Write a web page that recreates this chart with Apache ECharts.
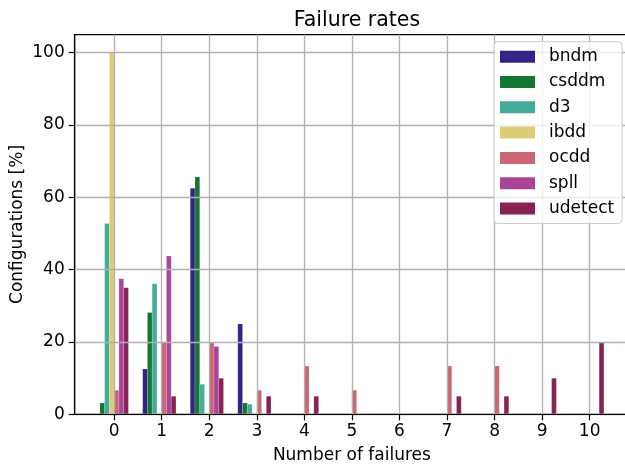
<!DOCTYPE html>
<html>
<head>
<meta charset="utf-8">
<script src="https://cdn.jsdelivr.net/npm/echarts@6/dist/echarts.min.js"></script>
<style>
  html, body { margin: 0; padding: 0; background: #fff; }
  #chart { width: 625px; height: 464px; }
</style>
</head>
<body>
<div id="chart"></div>
<script>
// Number of failures per configuration, share of configurations in percent
const categories = [0, 1, 2, 3, 4, 5, 6, 7, 8, 9, 10];
const bndm    = [0, 12.5, 62.5, 25, 0, 0, 0, 0, 0, 0, 0];
const csddm   = [3.13, 28.13, 65.63, 3.13, 0, 0, 0, 0, 0, 0, 0];
const d3      = [52.78, 36.11, 8.33, 2.78, 0, 0, 0, 0, 0, 0, 0];
const ibdd    = [100, 0, 0, 0, 0, 0, 0, 0, 0, 0, 0];
const ocdd    = [6.67, 20, 20, 6.67, 13.33, 6.67, 0, 13.33, 13.33, 0, 0];
const spll    = [37.5, 43.75, 18.75, 0, 0, 0, 0, 0, 0, 0, 0];
const udetect = [35, 5, 10, 5, 5, 0, 0, 5, 5, 10, 20];

const xTickValues = [0, 1, 2, 3, 4, 5, 6, 7, 8, 9, 10];
const yTickValues = [0, 20, 40, 60, 80, 100];

const seriesNames = ['bndm', 'csddm', 'd3', 'ibdd', 'ocdd', 'spll', 'udetect'];
const seriesValues = [bndm, csddm, d3, ibdd, ocdd, spll, udetect];
const palette = ['#332288', '#117733', '#44AA99', '#DDCC77', '#CC6677', '#AA4499', '#882255'];

const BAR_W = 0.1;              // bar width in x-axis units
const FONT = 'DejaVu Sans';

function makeSeries(idx) {
  const offset = (idx - 3.5) * BAR_W;   // group shifted so the 4th bar ends on the tick
  return {
    name: seriesNames[idx],
    type: 'custom',
    coordinateSystem: 'cartesian2d',
    clip: true,
    z: 2,
    itemStyle: { color: palette[idx] },
    data: categories.map((c, k) => [c, seriesValues[idx][k]]),
    encode: { x: 0, y: 1 },
    renderItem: function (params, api) {
      const x = api.value(0);
      const y = api.value(1);
      if (!y) return null;
      const tl = api.coord([x + offset - BAR_W / 2, y]);
      const br = api.coord([x + offset + BAR_W / 2, 0]);
      return {
        type: 'rect',
        shape: { x: tl[0], y: tl[1], width: br[0] - tl[0], height: br[1] - tl[1] },
        style: Object.assign(api.style(), { stroke: 'rgba(255,255,255,0.35)', lineWidth: 0.5 })
      };
    }
  };
}

const chart = echarts.init(document.getElementById('chart'), null, { renderer: 'canvas' });

chart.setOption({
  backgroundColor: '#ffffff',
  animation: false,
  color: palette,
  textStyle: { fontFamily: FONT, color: '#000' },
  title: {
    text: 'Failure rates',
    left: 352,
    top: 5.5,
    textAlign: 'center',
    textStyle: { fontFamily: FONT, fontSize: 20.5, fontWeight: 'normal', color: '#000' }
  },
  grid: {
    left: 74.7,
    top: 34.6,
    width: 554.4,
    height: 379.7,
    outerBoundsMode: 'none',
    containLabel: false,
    show: true,
    backgroundColor: 'transparent',
    borderColor: '#000',
    borderWidth: 1.2
  },
  legend: {
    orient: 'vertical',
    left: 494,
    top: 41.7,
    padding: [6.5, 8, 6.5, 6],
    itemWidth: 35,
    itemHeight: 12,
    itemGap: 8.3,
    icon: 'rect',
    backgroundColor: 'rgba(255,255,255,0.8)',
    borderColor: '#cccccc',
    borderWidth: 1,
    borderRadius: 4,
    textStyle: { fontFamily: FONT, fontSize: 17, color: '#000', padding: [0, 0, 0, 9] },
    data: seriesNames
  },
  xAxis: {
    type: 'value',
    min: -0.83,
    max: 10.83,
    z: 3,
    name: 'Number of failures',
    nameLocation: 'middle',
    nameGap: 33,
    nameMoveOverlap: false,
    nameTextStyle: { fontFamily: FONT, fontSize: 17, color: '#000' },
    axisLine: { show: true, onZero: false, lineStyle: { color: '#000', width: 1.2 } },
    axisTick: { show: true, inside: false, length: 6, customValues: xTickValues, lineStyle: { color: '#000', width: 1.2 } },
    axisLabel: { customValues: xTickValues, margin: 9, fontFamily: FONT, fontSize: 17, color: '#000' },
    splitLine: { show: true, lineStyle: { color: '#b0b0b0', width: 1.3 } }
  },
  yAxis: {
    type: 'value',
    min: 0,
    max: 105,
    z: 3,
    name: 'Configurations [%]',
    nameLocation: 'middle',
    nameGap: 49,
    nameMoveOverlap: false,
    nameTextStyle: { fontFamily: FONT, fontSize: 17, color: '#000' },
    axisLine: { show: true, onZero: false, lineStyle: { color: '#000', width: 1.2 } },
    axisTick: { show: true, inside: false, length: 6, customValues: yTickValues, lineStyle: { color: '#000', width: 1.2 } },
    axisLabel: { customValues: yTickValues, margin: 10, fontFamily: FONT, fontSize: 17, color: '#000' },
    splitLine: { show: true, lineStyle: { color: '#b0b0b0', width: 1.3 } }
  },
  series: seriesNames.map((_, i) => makeSeries(i))
});
</script>
</body>
</html>
